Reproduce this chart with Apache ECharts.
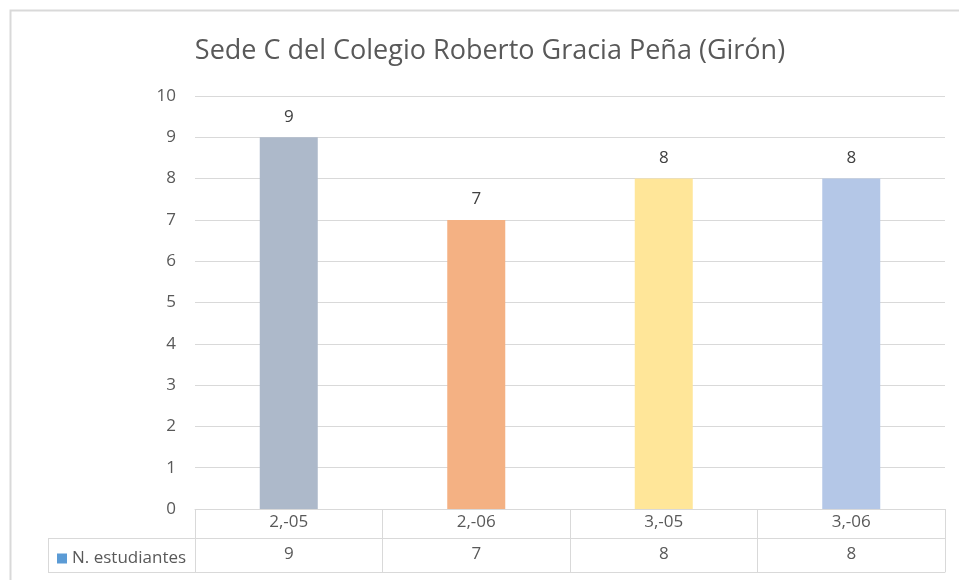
<!DOCTYPE html>
<html>
<head>
<meta charset="utf-8">
<script src="https://cdn.jsdelivr.net/npm/echarts@6/dist/echarts.min.js"></script>
<style>
  html, body { margin: 0; padding: 0; background: #fff; }
  #chart { width: 959px; height: 580px; }
</style>
</head>
<body>
<div id="chart"></div>
<script>
const categories = ["2,-05", "2,-06", "3,-05", "3,-06"];
const values     = [9, 7, 8, 8];
const barColors  = ["#ADB9CA", "#F4B183", "#FFE699", "#B4C7E7"];
const seriesName = "N. estudiantes";

const chart = echarts.init(document.getElementById("chart"));
const font = "Open Sans";
const gridColor = "#D9D9D9";
const textColor = "#595959";

const option = {
  animation: false,
  textStyle: { fontFamily: font },
  title: {
    text: "Sede C del Colegio Roberto Gracia Peña (Girón)",
    left: 485,
    top: 33,
    textAlign: "center",
    textStyle: { fontFamily: font, fontSize: 27, fontWeight: "normal", color: textColor },
  },
  legend: {
    left: 52,
    top: 545,
    itemWidth: 10,
    itemHeight: 10,
    itemGap: 4,
    itemTextGap: 4,
    icon: "rect",
    textStyle: { fontFamily: font, fontSize: 17, color: textColor },
    data: [seriesName],
  },
  grid: { left: 195, right: 14, top: 96, bottom: 71 },
  yAxis: {
    type: "value",
    min: 0,
    max: 10,
    interval: 1,
    axisLine: { show: false },
    axisTick: { show: false },
    splitLine: { lineStyle: { color: gridColor } },
    axisLabel: { margin: 19, fontSize: 17, color: textColor, fontFamily: font },
  },
  xAxis: [
    {
      type: "category",
      data: categories,
      position: "bottom",
      axisLine: { lineStyle: { color: gridColor } },
      axisTick: { show: true, length: 63, lineStyle: { color: gridColor } },
      axisLabel: { margin: 5, fontSize: 17, color: textColor, fontFamily: font },
    },
    {
      type: "category",
      data: values.map(String),
      position: "bottom",
      offset: 29,
      axisLine: { lineStyle: { color: gridColor } },
      axisTick: { show: false },
      axisLabel: { margin: 8, fontSize: 17, color: textColor, fontFamily: font },
    },
    {
      type: "category",
      data: categories,
      position: "bottom",
      offset: 63,
      axisLine: { lineStyle: { color: gridColor } },
      axisTick: { show: false },
      axisLabel: { show: false },
    },
  ],
  graphic: [
    { type: "rect", shape: { x: 10.5, y: 10.5, width: 960, height: 580 }, style: { fill: "none", stroke: gridColor, lineWidth: 2 } },
    { type: "line", shape: { x1: 48, y1: 538.5, x2: 195, y2: 538.5 }, style: { stroke: gridColor } },
    { type: "line", shape: { x1: 48, y1: 572.5, x2: 195, y2: 572.5 }, style: { stroke: gridColor } },
    { type: "line", shape: { x1: 48.5, y1: 538, x2: 48.5, y2: 573 }, style: { stroke: gridColor } },
  ],
  series: [
    {
      name: seriesName,
      type: "bar",
      barWidth: 58,
      itemStyle: { color: "#5B9BD5" },
      data: values.map((v, i) => ({ value: v, itemStyle: { color: barColors[i] } })),
      label: { show: true, position: "top", distance: 12, fontSize: 17, color: "#404040", fontFamily: font },
    },
  ],
};

chart.setOption(option);
</script>
</body>
</html>
